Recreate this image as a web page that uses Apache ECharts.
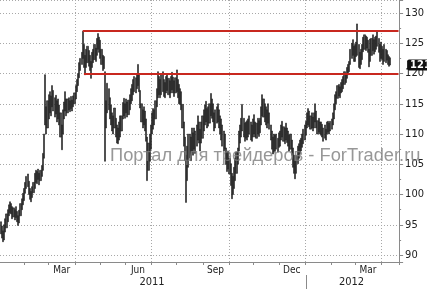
<!DOCTYPE html>
<html><head><meta charset="utf-8">
<script src="https://cdn.jsdelivr.net/npm/echarts@6/dist/echarts.min.js"></script>
<style>html,body{margin:0;padding:0;background:#fff}#c{width:427px;height:289px}</style>
</head><body><div id="c"></div>
<script>
// ---- data ----
const firstDay = '2011-01-03';
const lastDay = '2012-04-20';
const monthNames = ['Jan','Feb','Mar','Apr','May','Jun','Jul','Aug','Sep','Oct','Nov','Dec'];
const labelMonths = ['Mar','Jun','Sep','Dec'];
const gridMonths = ['Jan','Apr','Jul','Oct'];
const lows = [
93.5,92.8,92.2,92.5,93.8,94.5,95.5,96.5,97.0,96.8,
96.0,96.3,95.8,96.2,95.5,94.9,95.3,96.5,97.5,98.3,
99.0,100.2,101.0,101.3,100.0,99.2,98.8,99.5,100.3,101.0,
102.0,101.8,102.5,101.6,102.3,103.0,104.0,106.0,111.5,110.0,
111.0,112.5,113.5,113.0,114.5,113.8,112.8,113.3,112.0,112.5,
111.5,109.5,107.4,110.0,112.5,113.8,113.0,113.5,114.0,113.7,
114.2,113.8,114.5,115.0,115.8,117.0,118.0,119.3,120.5,121.5,
122.5,121.0,119.8,121.0,121.8,121.2,120.5,119.2,121.0,121.8,
122.3,122.0,123.0,124.0,123.5,122.5,121.5,120.5,120.8,105.5,
111.0,113.5,114.0,112.5,111.5,110.5,110.0,111.0,109.5,108.5,
108.4,109.0,109.5,110.5,112.5,113.0,112.6,113.5,112.8,113.2,
114.0,115.0,115.5,116.5,117.0,116.8,117.5,118.0,117.0,114.3,
112.0,111.0,111.5,110.5,108.8,102.3,104.0,105.5,107.5,110.0,
110.8,111.5,112.5,114.5,116.0,116.5,116.0,116.5,117.0,116.2,
116.0,116.8,117.2,116.5,116.0,116.8,117.3,116.8,116.2,116.8,
117.0,116.0,115.0,114.9,114.0,111.0,108.0,105.6,98.7,102.3,
104.5,106.0,105.6,107.0,106.5,107.5,106.8,108.0,109.0,108.5,
107.2,108.5,109.3,110.5,111.5,112.0,111.0,111.3,111.8,113.0,
112.6,112.0,110.5,111.0,111.8,112.0,111.0,110.0,109.0,108.0,
107.2,107.5,105.0,103.8,104.2,103.4,101.5,99.3,100.0,101.0,
102.3,103.5,105.0,107.2,108.5,109.5,110.5,109.5,108.8,109.3,
109.0,109.5,110.0,109.0,108.8,109.5,110.0,109.5,109.3,110.0,
109.6,110.2,111.5,113.0,112.8,112.0,111.5,111.0,111.8,110.8,
109.0,107.5,106.7,107.0,107.2,107.5,107.0,107.8,108.0,109.0,
109.5,108.8,108.4,109.0,108.6,108.0,107.2,107.5,106.5,104.5,
103.5,102.6,103.5,105.1,106.0,106.8,107.2,107.8,108.4,109.0,
109.8,111.0,111.5,111.2,110.8,111.0,110.5,111.0,112.0,111.0,
110.0,110.3,110.0,109.8,109.5,108.8,109.3,109.0,110.0,110.3,
110.0,110.5,110.8,111.5,112.5,114.0,115.0,115.9,116.3,116.0,
116.8,117.0,117.5,118.2,118.5,119.2,119.8,120.3,121.5,122.5,
123.0,122.0,122.0,122.8,123.0,121.0,120.8,121.5,122.3,123.6,
124.0,123.8,124.2,123.5,121.1,122.0,123.0,123.8,123.2,123.6,
124.0,124.5,123.5,122.0,122.5,122.3,121.5,122.0,121.8,122.2,
121.5,121.2,121.4
];
const highs = [
95.5,94.8,94.0,95.0,96.0,96.8,97.5,98.3,98.8,98.5,
98.0,97.8,97.5,98.0,97.2,96.5,97.4,98.5,99.3,100.2,
101.0,102.0,103.0,103.4,102.2,101.0,100.5,101.3,102.0,103.5,
104.0,103.8,104.2,103.5,104.0,104.8,106.8,110.0,119.8,114.5,
115.5,116.5,117.0,116.3,118.0,117.2,116.0,116.4,115.5,115.8,
114.8,113.5,111.5,114.0,115.3,117.0,115.8,115.8,116.0,115.5,
116.2,115.6,116.3,116.8,118.0,119.0,120.0,121.8,122.5,123.5,
127.0,124.8,123.0,124.0,124.5,123.8,123.0,122.0,123.5,124.0,
124.8,124.2,125.8,126.6,126.0,125.5,124.0,123.0,122.8,120.3,
115.5,118.4,117.5,116.0,114.8,113.5,113.0,114.3,112.6,111.5,
111.0,112.0,113.0,113.0,115.2,115.9,115.0,115.8,115.3,115.6,
116.5,117.5,118.2,119.0,119.5,119.3,120.0,121.5,119.8,117.2,
115.0,114.0,114.5,113.8,112.5,109.5,108.5,110.0,111.5,113.5,
114.2,114.0,115.5,117.5,120.3,119.5,119.0,119.8,120.3,119.0,
118.5,119.5,120.0,119.2,118.8,119.5,120.2,119.4,118.8,119.3,
120.6,119.0,118.2,117.5,117.0,114.9,112.0,109.5,106.5,108.0,
110.0,110.0,109.5,111.0,110.2,111.0,110.5,111.5,113.0,112.0,
110.8,112.0,113.0,114.0,114.8,115.4,114.2,114.5,115.0,116.7,
115.8,115.0,113.5,114.0,114.5,115.0,114.0,113.0,112.5,111.5,
110.5,110.0,107.7,106.8,107.2,106.0,105.1,103.5,103.0,104.5,
106.0,107.0,107.7,110.5,111.5,112.6,114.9,112.6,111.8,112.0,
112.2,112.5,113.0,112.0,111.5,112.5,113.2,112.0,111.8,112.6,
112.2,112.6,114.5,116.5,115.8,115.0,114.5,114.0,115.0,113.5,
111.5,110.5,109.5,110.0,109.8,110.0,109.3,110.2,110.5,111.5,
112.1,111.2,111.0,111.8,111.0,110.5,109.8,110.0,109.0,107.7,
106.5,105.5,106.5,108.0,108.4,109.0,109.3,110.0,110.8,111.5,
112.1,113.5,114.2,113.8,113.0,113.5,112.8,113.5,115.0,113.8,
112.2,112.6,112.0,112.0,111.6,111.0,111.5,110.8,112.0,112.1,
111.8,112.1,112.5,113.5,115.0,116.5,117.0,118.0,118.2,117.8,
118.5,119.0,119.5,120.3,120.0,121.0,121.5,122.0,124.0,125.0,
125.6,124.5,124.8,125.2,128.2,124.8,123.5,124.0,124.8,126.0,
126.4,126.2,126.0,125.5,124.0,125.7,125.8,126.4,125.6,126.0,
126.2,126.9,125.8,124.8,125.2,124.5,124.0,124.8,124.0,123.8,
123.1,122.8,122.6
];
const resistanceLevel = 127.0, resistanceFrom = '2011-04-11';
const supportLevel = 120.0, supportFrom = '2011-04-12';
const lastPrice = 121.4;
const watermark = 'Портал для трейдеров - ForTrader.ru';

// ---- build ----
function weekdays(a, b) {
  const out = []; let d = new Date(a + 'T00:00:00Z'); const e = new Date(b + 'T00:00:00Z');
  while (d <= e) { const w = d.getUTCDay(); if (w !== 0 && w !== 6) out.push(d.toISOString().slice(0, 10)); d = new Date(d.getTime() + 86400000); }
  return out;
}
const days = weekdays(firstDay, lastDay);
const mon = s => monthNames[+s.slice(5, 7) - 1];
const yr = s => s.slice(0, 4);
function mids(keyFn) {
  const groups = {}; days.forEach((d, i) => { const k = keyFn(d); (groups[k] = groups[k] || []).push(i); });
  const set = new Set(); Object.values(groups).forEach(g => set.add(g[Math.floor((g.length - 1) / 2)])); return set;
}
const monthMid = mids(d => d.slice(0, 7));
const yearMid = mids(yr);
const candles = lows.map((l, i) => [l, highs[i], l, highs[i]]);

const FONT = "'Liberation Sans Narrow','DejaVu Sans Condensed','Liberation Sans',sans-serif";
const chart = echarts.init(document.getElementById('c'), null, {renderer: 'canvas'});
chart.setOption({
  animation: false,
  backgroundColor: '#fff',
  title: {
    text: watermark, left: 110, top: 147, padding: 0, z: 10,
    textStyle: {fontFamily: "'Liberation Sans',Arial,sans-serif", fontSize: 18.3, fontWeight: 'normal', color: 'rgba(125,125,125,0.8)'}
  },
  grid: {left: 0, right: 22, top: -2, bottom: 27},
  xAxis: [{
    type: 'category', data: days, boundaryGap: true,
    axisLine: {show: true, lineStyle: {color: '#8a8a8a', width: 1}},
    axisTick: {show: true, length: 3, lineStyle: {color: '#8a8a8a'},
      interval: (i, v) => i > 0 && v.slice(5, 7) !== days[i - 1].slice(5, 7)},
    splitLine: {show: true, lineStyle: {color: '#a8a8a8', type: [1, 2], width: 1},
      interval: (i, v) => i > 0 && v.slice(5, 7) !== days[i - 1].slice(5, 7) && gridMonths.includes(mon(v))},
    axisLabel: {show: true, margin: 3, fontSize: 10, color: '#222', fontFamily: FONT,
      interval: (i, v) => monthMid.has(i) && labelMonths.includes(mon(v)),
      formatter: v => mon(v)}
  }, {
    type: 'category', data: days, boundaryGap: true, position: 'bottom', offset: 13,
    axisLine: {show: false},
    axisTick: {show: true, length: 14, alignWithLabel: true, lineStyle: {color: '#8a8a8a'},
      interval: (i, v) => i > 0 && yr(v) !== yr(days[i - 1])},
    splitLine: {show: false},
    axisLabel: {show: true, margin: 2, fontSize: 11, color: '#222', fontFamily: FONT,
      interval: (i) => yearMid.has(i), formatter: v => yr(v)}
  }],
  yAxis: {
    type: 'value', position: 'right', min: 88.85, max: 132.15, splitNumber: 9, minInterval: 5, maxInterval: 5,
    axisLine: {show: true, lineStyle: {color: '#8a8a8a'}},
    axisTick: {show: true, length: 4, lineStyle: {color: '#8a8a8a'}},
    minorTick: {show: true, splitNumber: 2, length: 2, lineStyle: {color: '#8a8a8a'}},
    splitLine: {show: true, lineStyle: {color: '#a8a8a8', type: [1, 2], width: 1}},
    axisLabel: {show: true, margin: 6, fontSize: 11, color: '#222', fontFamily: FONT,
      showMinLabel: false, showMaxLabel: false,
      formatter: v => (Math.abs(v % 5) < 1e-6 ? String(v) : '')}
  },
  series: [{
    type: 'candlestick', xAxisIndex: 0, data: candles, barWidth: 1.6,
    itemStyle: {color: '#4a4a4a', color0: '#4a4a4a', borderColor: '#1a1a1a', borderColor0: '#1a1a1a', borderWidth: 0.6},
    markLine: {
      silent: true, symbol: ['none', 'none'],
      lineStyle: {color: '#c8281f', width: 2, type: 'solid'},
      label: {show: false},
      data: [
        [{coord: [resistanceFrom, resistanceLevel]}, {coord: [lastDay, resistanceLevel]}],
        [{coord: [supportFrom, supportLevel]}, {coord: [lastDay, supportLevel]}],
        {yAxis: lastPrice, lineStyle: {color: 'rgba(0,0,0,0)', width: 1, opacity: 1},
          label: {show: true, position: 'end', distance: 8, opacity: 1, formatter: p => p.value.toFixed(2),
            backgroundColor: '#111', color: '#fff', fontWeight: 'bold', fontSize: 11, fontFamily: FONT,
            padding: [0, 3], borderRadius: 2}}
      ]
    }
  }]
});
</script></body></html>
